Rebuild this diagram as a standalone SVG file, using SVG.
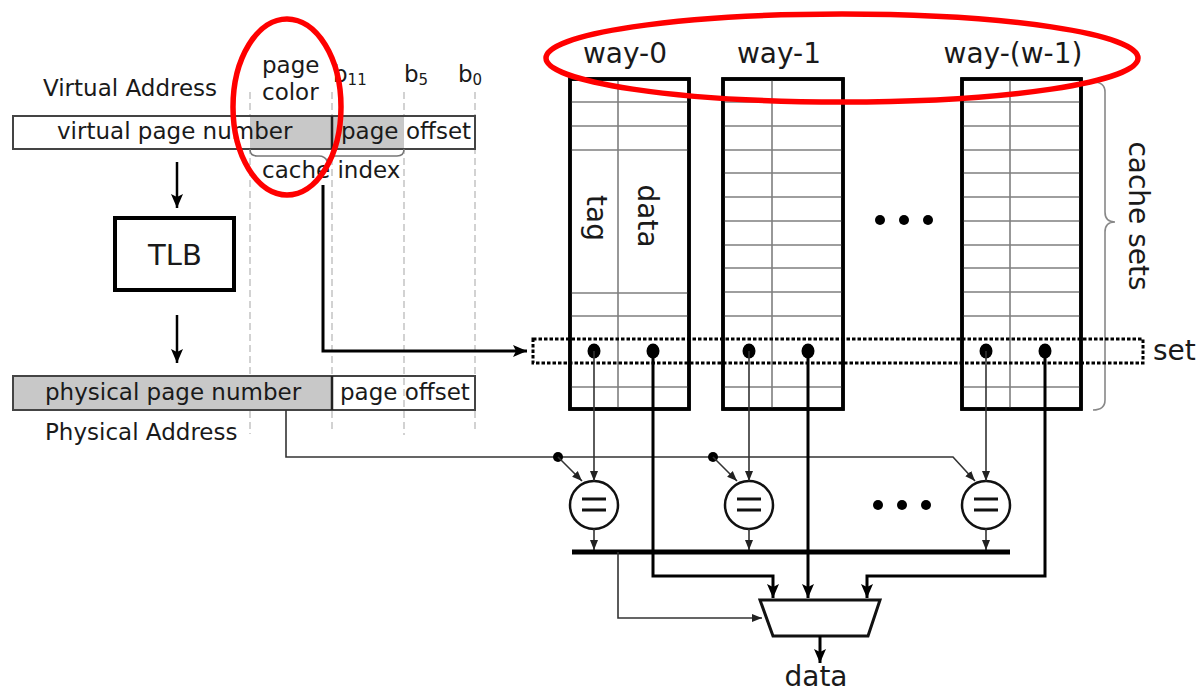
<svg xmlns="http://www.w3.org/2000/svg" width="1199" height="695" viewBox="0 0 1199 695">
<defs>
<style>
text{font-family:"DejaVu Sans","Liberation Sans",sans-serif;fill:#1a1a1a}
.s{font-size:23px}
.l{font-size:28px}
.guide{stroke:#b5b5b5;stroke-width:1.2;stroke-dasharray:7 4;fill:none}
.bar{stroke:#444;stroke-width:2;}
.way{fill:#fff;stroke:#000;stroke-width:3.5}
.row{stroke:#7f7f7f;stroke-width:1.6;fill:none}
.thin{stroke:#333;stroke-width:1.6;fill:none}
.thick{stroke:#000;stroke-width:3;fill:none}
.red{fill:none;stroke:#ff0000;stroke-width:5.5}
.cmp{fill:#fff;stroke:#111;stroke-width:2.5}
</style>
<marker id="as" markerUnits="userSpaceOnUse" markerWidth="10" markerHeight="10" viewBox="0 0 10 10" refX="10" refY="5" orient="auto"><path d="M0,1 L10,5 L0,9 Z" fill="#222"/></marker>
<marker id="ab" markerUnits="userSpaceOnUse" markerWidth="14" markerHeight="12" viewBox="0 0 14 12" refX="14" refY="6" orient="auto"><path d="M0,0 L14,6 L0,12 L3,6 Z" fill="#000"/></marker>
</defs>
<rect width="1199" height="695" fill="#fff"/>

<g id="guides">
<line class="guide" x1="250" y1="92" x2="250" y2="434"/>
<line class="guide" x1="332" y1="92" x2="332" y2="432"/>
<line class="guide" x1="404" y1="92" x2="404" y2="435"/>
<line class="guide" x1="475" y1="92" x2="475" y2="433"/>
</g>

<g id="virtual-address">
<text class="s" x="43" y="96">Virtual Address</text>
<text class="s" x="262" y="73">page</text>
<text class="s" x="262" y="100">color</text>
<text class="s" x="333" y="82">b<tspan font-size="15" dy="3">11</tspan></text>
<text class="s" x="404" y="82">b<tspan font-size="15" dy="3">5</tspan></text>
<text class="s" x="458" y="82">b<tspan font-size="15" dy="3">0</tspan></text>
<rect x="13" y="116" width="462" height="33" fill="#fff" class="bar"/>
<rect x="250" y="116" width="154" height="33" fill="#c8c8c8" stroke="none"/>
<rect x="13" y="116" width="462" height="33" fill="none" class="bar"/>
<line x1="332" y1="116" x2="332" y2="149" stroke="#222" stroke-width="2.5"/>
<text class="s" x="57" y="139">virtual page number</text>
<text class="s" x="341" y="139">page</text>
<text class="s" x="406" y="139">offset</text>
<path d="M250,149 q0,7 7,7 h62 q6,0 8,5 q2,-5 8,-5 h62 q7,0 7,-7" fill="none" stroke="#777" stroke-width="1.6"/>
<text class="s" x="262" y="178">cache index</text>
</g>

<g id="tlb">
<rect x="115" y="218" width="119" height="72" fill="#fff" stroke="#000" stroke-width="4"/>
<text x="175" y="265" text-anchor="middle" style="font-size:29px">TLB</text>
</g>

<g id="physical-address">
<rect x="13" y="376" width="319" height="34" fill="#c8c8c8" stroke="none"/>
<rect x="13" y="376" width="462" height="34" fill="none" class="bar"/>
<line x1="332" y1="376" x2="332" y2="410" stroke="#222" stroke-width="2.5"/>
<text class="s" x="45" y="400">physical page number</text>
<text class="s" x="340" y="400">page offset</text>
<text class="s" x="45" y="440">Physical Address</text>
</g>

<g id="way-0">
<text class="l" x="625" y="63" text-anchor="middle">way-0</text>
<rect class="way" x="570" y="79" width="119" height="330"/>
<path class="row" d="M618,79V409M570,102H689M570,126H689M570,150H689M570,293H689M570,316H689M570,387H689"/>
<text class="l" transform="translate(587,218) rotate(90)" text-anchor="middle">tag</text>
<text class="l" transform="translate(638,216) rotate(90)" text-anchor="middle">data</text>
<rect class="way" x="570" y="79" width="119" height="330" style="fill:none"/>
</g>

<g id="way-1">
<text class="l" x="779" y="63" text-anchor="middle">way-1</text>
<rect class="way" x="723" y="79" width="120" height="330"/>
<path class="row" d="M772,79V409M723,102H843M723,126H843M723,150H843M723,173H843M723,197H843M723,221H843M723,245H843M723,268H843M723,292H843M723,316H843M723,387H843"/>
<rect class="way" x="723" y="79" width="120" height="330" style="fill:none"/>
</g>

<g id="way-w-1">
<text class="l" x="1013" y="63" text-anchor="middle">way-(w-1)</text>
<rect class="way" x="962" y="79" width="119" height="330"/>
<path class="row" d="M1010,79V409M962,102H1081M962,126H1081M962,150H1081M962,173H1081M962,197H1081M962,221H1081M962,245H1081M962,268H1081M962,292H1081M962,316H1081M962,387H1081"/>
<rect class="way" x="962" y="79" width="119" height="330" style="fill:none"/>
</g>

<g id="ellipsis-top">
<circle cx="880" cy="220" r="5" fill="#000"/>
<circle cx="904" cy="220" r="5" fill="#000"/>
<circle cx="928" cy="220" r="5" fill="#000"/>
</g>

<g id="cache-sets">
<path d="M1093,82 q12,0 12,10 V212 q0,10 10,10 q-10,0 -10,10 V400 q0,10 -12,10" fill="none" stroke="#888" stroke-width="1.6"/>
<text class="l" transform="translate(1129,216) rotate(90)" text-anchor="middle">cache sets</text>
</g>

<g id="set">
<rect x="533" y="339" width="610" height="24" fill="none" stroke="#000" stroke-width="3" stroke-dasharray="3.5 2"/>
<text class="l" x="1153" y="360">set</text>
</g>

<g id="comparators">
<circle class="cmp" cx="594" cy="505" r="24"/>
<path d="M582,499H606M582,510H606" stroke="#111" stroke-width="3"/>
<circle class="cmp" cx="749" cy="505" r="24"/>
<path d="M737,499H761M737,510H761" stroke="#111" stroke-width="3"/>
<circle class="cmp" cx="986" cy="505" r="24"/>
<path d="M974,499H998M974,510H998" stroke="#111" stroke-width="3"/>
<circle cx="878" cy="505" r="5" fill="#000"/>
<circle cx="902" cy="505" r="5" fill="#000"/>
<circle cx="926" cy="505" r="5" fill="#000"/>
</g>

<g id="mux">
<path d="M760,600 H880 L868,636 H773 Z" fill="#fff" stroke="#111" stroke-width="3"/>
<text class="l" x="816" y="686" text-anchor="middle">data</text>
</g>

<g id="connectors">
<line x1="177" y1="162" x2="177" y2="208" stroke="#000" stroke-width="2.5" marker-end="url(#ab)"/>
<line x1="177" y1="315" x2="177" y2="363" stroke="#000" stroke-width="2.5" marker-end="url(#ab)"/>
<polyline class="thick" points="323,185 323,351 527,351" marker-end="url(#ab)"/>
<ellipse cx="594" cy="351" rx="6.5" ry="7.5" fill="#000"/>
<ellipse cx="653" cy="351" rx="6.5" ry="7.5" fill="#000"/>
<ellipse cx="749" cy="351" rx="6.5" ry="7.5" fill="#000"/>
<ellipse cx="808" cy="351" rx="6.5" ry="7.5" fill="#000"/>
<ellipse cx="986" cy="351" rx="6.5" ry="7.5" fill="#000"/>
<ellipse cx="1045" cy="351" rx="6.5" ry="7.5" fill="#000"/>
<line class="thin" x1="594" y1="351" x2="594" y2="481" marker-end="url(#as)"/>
<line class="thin" x1="749" y1="351" x2="749" y2="481" marker-end="url(#as)"/>
<line class="thin" x1="986" y1="351" x2="986" y2="481" marker-end="url(#as)"/>
<polyline class="thin" points="286,410 286,457 953,457 975,481" marker-end="url(#as)"/>
<circle cx="558" cy="457" r="5" fill="#000"/>
<circle cx="713" cy="457" r="5" fill="#000"/>
<line class="thin" x1="558" y1="457" x2="582" y2="481" marker-end="url(#as)"/>
<line class="thin" x1="713" y1="457" x2="737" y2="481" marker-end="url(#as)"/>
<line class="thin" x1="594" y1="529" x2="594" y2="550" marker-end="url(#as)"/>
<line class="thin" x1="749" y1="529" x2="749" y2="550" marker-end="url(#as)"/>
<line class="thin" x1="986" y1="529" x2="986" y2="550" marker-end="url(#as)"/>
<line x1="572" y1="552" x2="1010" y2="552" stroke="#000" stroke-width="5"/>
<polyline class="thin" points="618,552 618,618 762,618" marker-end="url(#as)"/>
<polyline class="thick" points="653,351 653,576 773,576 773,598" marker-end="url(#ab)"/>
<line class="thick" x1="808" y1="351" x2="808" y2="598" marker-end="url(#ab)"/>
<polyline class="thick" points="1045,351 1045,576 867,576 867,598" marker-end="url(#ab)"/>
<line class="thick" x1="820" y1="636" x2="820" y2="663" marker-end="url(#ab)"/>
</g>

<g id="highlights">
<ellipse class="red" cx="287" cy="107" rx="54" ry="88"/>
<ellipse class="red" cx="842" cy="58" rx="296" ry="44"/>
</g>
</svg>
